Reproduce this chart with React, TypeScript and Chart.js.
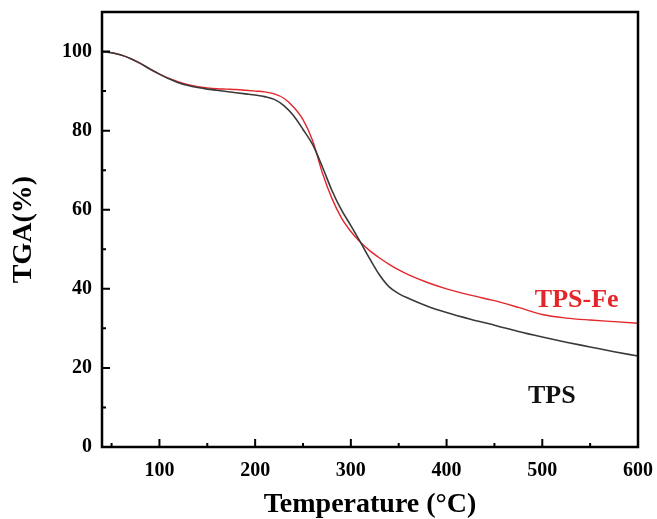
import React, { useEffect, useRef } from "react";
import { Chart, registerables } from "chart.js";

Chart.register(...registerables);

const temperatures = [40, 50, 60, 70, 80, 90, 100, 110, 120, 130, 140, 150, 160, 170, 180, 190, 200, 210, 220, 230, 240, 250, 260, 270, 280, 290, 300, 310, 320, 330, 340, 350, 360, 380, 400, 425, 450, 475, 500, 525, 550, 575, 600];

const tpsFe = [100.0, 99.7, 99.1, 98.2, 97.0, 95.6, 94.3, 93.2, 92.3, 91.6, 91.1, 90.8, 90.6, 90.5, 90.4, 90.2, 90.0, 89.8, 89.3, 88.2, 86.0, 82.8, 77.5, 69.5, 63.0, 58.0, 54.5, 51.8, 49.6, 47.8, 46.2, 44.8, 43.6, 41.6, 40.0, 38.4, 37.0, 35.3, 33.5, 32.6, 32.1, 31.7, 31.3];

const tps = [100.0, 99.7, 99.1, 98.2, 97.0, 95.6, 94.3, 93.1, 92.1, 91.4, 90.9, 90.5, 90.2, 89.9, 89.6, 89.3, 89.0, 88.6, 87.9, 86.3, 83.8, 80.3, 76.5, 71.0, 65.0, 60.0, 56.0, 51.8, 47.5, 43.5, 40.5, 38.8, 37.6, 35.6, 34.0, 32.3, 30.8, 29.2, 27.8, 26.5, 25.3, 24.1, 23.0];

const xTicks = [100, 200, 300, 400, 500, 600];
const xMinorTicks = [50, 150, 250, 350, 450, 550];
const yTicks = [0, 20, 40, 60, 80, 100];
const yMinorTicks = [10, 30, 50, 70, 90];

const seriesLabels = ["TPS-Fe", "TPS"];
const labelTemps = [536, 510];
const labelValues = [37.2, 12.7];

const RED = "#e3262b";
const DARK = "#3a3a3a";
const SERIF = "'Liberation Serif', 'Times New Roman', serif";

const framePlugin = {
  id: "frameAndTicks",
  afterDraw(chart: any) {
    const { ctx, chartArea, scales } = chart;
    const xs = scales.x;
    const ys = scales.y;
    const { left, right, top, bottom } = chartArea;
    ctx.save();
    ctx.strokeStyle = "#000";
    ctx.lineWidth = 2.5;
    ctx.strokeRect(left, top, right - left, bottom - top);
    ctx.lineWidth = 2;
    ctx.beginPath();
    xTicks.forEach((t) => {
      const px = xs.getPixelForValue(t);
      ctx.moveTo(px, bottom);
      ctx.lineTo(px, bottom - 8);
    });
    xMinorTicks.forEach((t) => {
      const px = xs.getPixelForValue(t);
      ctx.moveTo(px, bottom);
      ctx.lineTo(px, bottom - 4);
    });
    yTicks.forEach((t) => {
      const py = ys.getPixelForValue(t);
      ctx.moveTo(left, py);
      ctx.lineTo(left + 8, py);
    });
    yMinorTicks.forEach((t) => {
      const py = ys.getPixelForValue(t);
      ctx.moveTo(left, py);
      ctx.lineTo(left + 4, py);
    });
    ctx.stroke();

    ctx.font = `bold 26px ${SERIF}`;
    ctx.textAlign = "center";
    ctx.textBaseline = "middle";
    const colors = [RED, "#111"];
    seriesLabels.forEach((txt, i) => {
      ctx.fillStyle = colors[i];
      ctx.fillText(txt, xs.getPixelForValue(labelTemps[i]), ys.getPixelForValue(labelValues[i]));
    });
    ctx.restore();
  },
};

function zeroPadding(scale: any) {
  scale.paddingLeft = 0;
  scale.paddingRight = 0;
  scale.paddingTop = 0;
  scale.paddingBottom = 0;
}

export default function App() {
  const canvasRef = useRef<HTMLCanvasElement | null>(null);

  useEffect(() => {
    const canvas = canvasRef.current;
    if (!canvas) return;
    const chart = new Chart(canvas, {
      type: "line",
      data: {
        datasets: [
          {
            label: "TPS",
            data: temperatures.map((t, i) => ({ x: t, y: tps[i] })),
            borderColor: DARK,
            borderWidth: 1.6,
            pointRadius: 0,
            cubicInterpolationMode: "monotone",
            fill: false,
          },
          {
            label: "TPS-Fe",
            data: temperatures.map((t, i) => ({ x: t, y: tpsFe[i] })),
            borderColor: RED,
            borderWidth: 1.4,
            pointRadius: 0,
            cubicInterpolationMode: "monotone",
            fill: false,
          },
        ],
      },
      options: {
        animation: false,
        responsive: false,
        devicePixelRatio: 1,
        layout: { padding: { left: 0, right: 19, top: 12, bottom: 0 } },
        plugins: { legend: { display: false }, tooltip: { enabled: false } },
        scales: {
          x: {
            type: "linear",
            min: 40,
            max: 600,
            afterBuildTicks: (scale: any) => {
              scale.ticks = xTicks.map((v) => ({ value: v }));
            },
            afterFit: (scale: any) => {
              scale.height = 72;
              zeroPadding(scale);
            },
            grid: { display: false, drawTicks: false },
            border: { display: false },
            ticks: {
              color: "#000",
              padding: 12,
              maxRotation: 0,
              font: { family: SERIF, size: 20, weight: "bold" },
            },
            title: {
              display: true,
              text: "Temperature (°C)",
              color: "#000",
              font: { family: SERIF, size: 28, weight: "bold", lineHeight: 1 },
              padding: { top: 0, bottom: 0 },
            },
          },
          y: {
            type: "linear",
            min: 0,
            max: 110,
            afterBuildTicks: (scale: any) => {
              scale.ticks = yTicks.map((v) => ({ value: v }));
            },
            afterFit: (scale: any) => {
              scale.width = 102;
              zeroPadding(scale);
            },
            grid: { display: false, drawTicks: false },
            border: { display: false },
            ticks: {
              color: "#000",
              padding: 10,
              font: { family: SERIF, size: 20, weight: "bold" },
            },
            title: {
              display: true,
              text: "TGA(%)",
              color: "#000",
              font: { family: SERIF, size: 28, weight: "bold", lineHeight: 1 },
              padding: { top: 10, bottom: 0 },
            },
          },
        },
      },
      plugins: [framePlugin],
    } as any);
    return () => chart.destroy();
  }, []);

  return (
    <div style={{ position: "fixed", left: 0, top: 0, width: 657, height: 519, background: "#fff" }}>
      <canvas ref={canvasRef} width={657} height={519} style={{ display: "block", width: 657, height: 519 }} />
    </div>
  );
}
